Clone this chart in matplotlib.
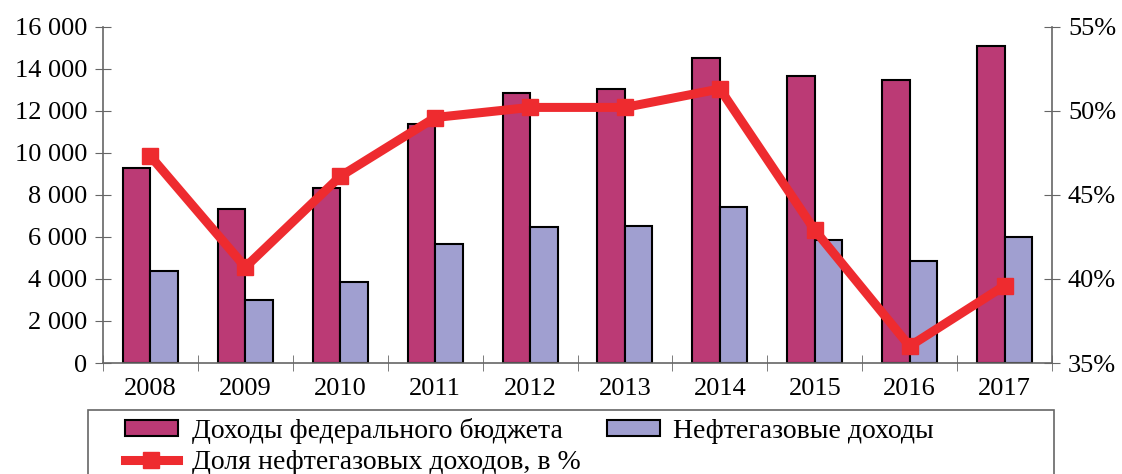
import numpy as np
import matplotlib
matplotlib.use("Agg")
import matplotlib.pyplot as plt
from matplotlib.patches import Rectangle
from matplotlib.lines import Line2D

plt.rcParams['font.family'] = ['Liberation Serif', 'DejaVu Serif']

# данные
years = ["2008", "2009", "2010", "2011", "2012", "2013", "2014", "2015", "2016", "2017"]
budget = [9276, 7338, 8305, 11368, 12856, 13020, 14497, 13659, 13460, 15089]
oilgas = [4390, 2984, 3831, 5642, 6453, 6534, 7434, 5863, 4844, 5972]
share = [47.3, 40.7, 46.1, 49.6, 50.2, 50.2, 51.3, 42.9, 36.0, 39.6]
left_ticks = [0, 2000, 4000, 6000, 8000, 10000, 12000, 14000, 16000]
left_labels = ["0", "2 000", "4 000", "6 000", "8 000", "10 000", "12 000", "14 000", "16 000"]
right_ticks = [35, 40, 45, 50, 55]
right_labels = ["35%", "40%", "45%", "50%", "55%"]
names = ["Доходы федерального бюджета", "Нефтегазовые доходы", "Доля нефтегазовых доходов, в %"]

W, H = 1122, 474
fig = plt.figure(figsize=(W / 100, H / 100), dpi=100)
ax = fig.add_axes([103 / W, 1 - 363 / H, (1052 - 103) / W, (363 - 26.7) / H])

c_bud = "#BB3A75"
c_oil = "#A09FD0"
c_line = "#EE2B2F"
grey = "#666666"
fs = 19

x = np.arange(len(years))
w = 0.29
ax.bar(x - w / 2, budget, w, color=c_bud, edgecolor="black", linewidth=1.5, zorder=2)
ax.bar(x + w / 2, oilgas, w, color=c_oil, edgecolor="black", linewidth=1.5, zorder=2)
ax.set_xlim(-0.5, len(years) - 0.5)
ax.set_ylim(0, 16000)
ax.set_yticks(left_ticks)
ax.set_yticklabels(left_labels)
ax.set_xticks(x)
ax.set_xticklabels(years)
ax.set_xticks(np.arange(len(years) + 1) - 0.5, minor=True)
ax.tick_params(axis="x", which="major", length=0, pad=11, labelsize=fs)
ax.tick_params(axis="x", which="minor", direction="inout", length=11, color=grey)
ax.tick_params(axis="y", direction="inout", length=11, color=grey, pad=6, labelsize=fs)

ax2 = ax.twinx()
ax2.plot(x, share, color=c_line, linewidth=6.5, marker="s", markersize=11, zorder=3)
ax2.set_ylim(35, 55)
ax2.set_yticks(right_ticks)
ax2.set_yticklabels(right_labels)
ax2.tick_params(axis="y", direction="inout", length=11, color=grey, pad=6, labelsize=fs)

for a in (ax, ax2):
    a.spines["top"].set_visible(False)
    for s in ("left", "right", "bottom"):
        a.spines[s].set_color(grey)
        a.spines[s].set_linewidth(1.2)
ax.spines["right"].set_visible(False)
ax2.spines["left"].set_visible(False)
ax2.spines["bottom"].set_visible(False)

# рамка легенды (уходит за нижний край)
fig.patches.append(Rectangle((88 / W, 1 - 490 / H), (1054 - 88) / W, 80 / H,
                             transform=fig.transFigure, fill=False, edgecolor=grey, linewidth=1.2))

handles = [
    Rectangle((0, 0), 1, 1, facecolor=c_bud, edgecolor="black", linewidth=1.5),
    Line2D([], [], color=c_line, linewidth=6.5, marker="s", markersize=11),
    Rectangle((0, 0), 1, 1, facecolor=c_oil, edgecolor="black", linewidth=1.5),
]
labels = [names[0], names[2], names[1]]
fig.legend(handles, labels, loc="upper left", bbox_to_anchor=(125 / W, 1 - 418 / H),
           ncol=2, frameon=False, borderpad=0, borderaxespad=0, fontsize=20,
           handlelength=1.9, handleheight=0.5, handletextpad=0.5,
           columnspacing=0.95, labelspacing=0.2)

fig.savefig("out.png", dpi=100)
